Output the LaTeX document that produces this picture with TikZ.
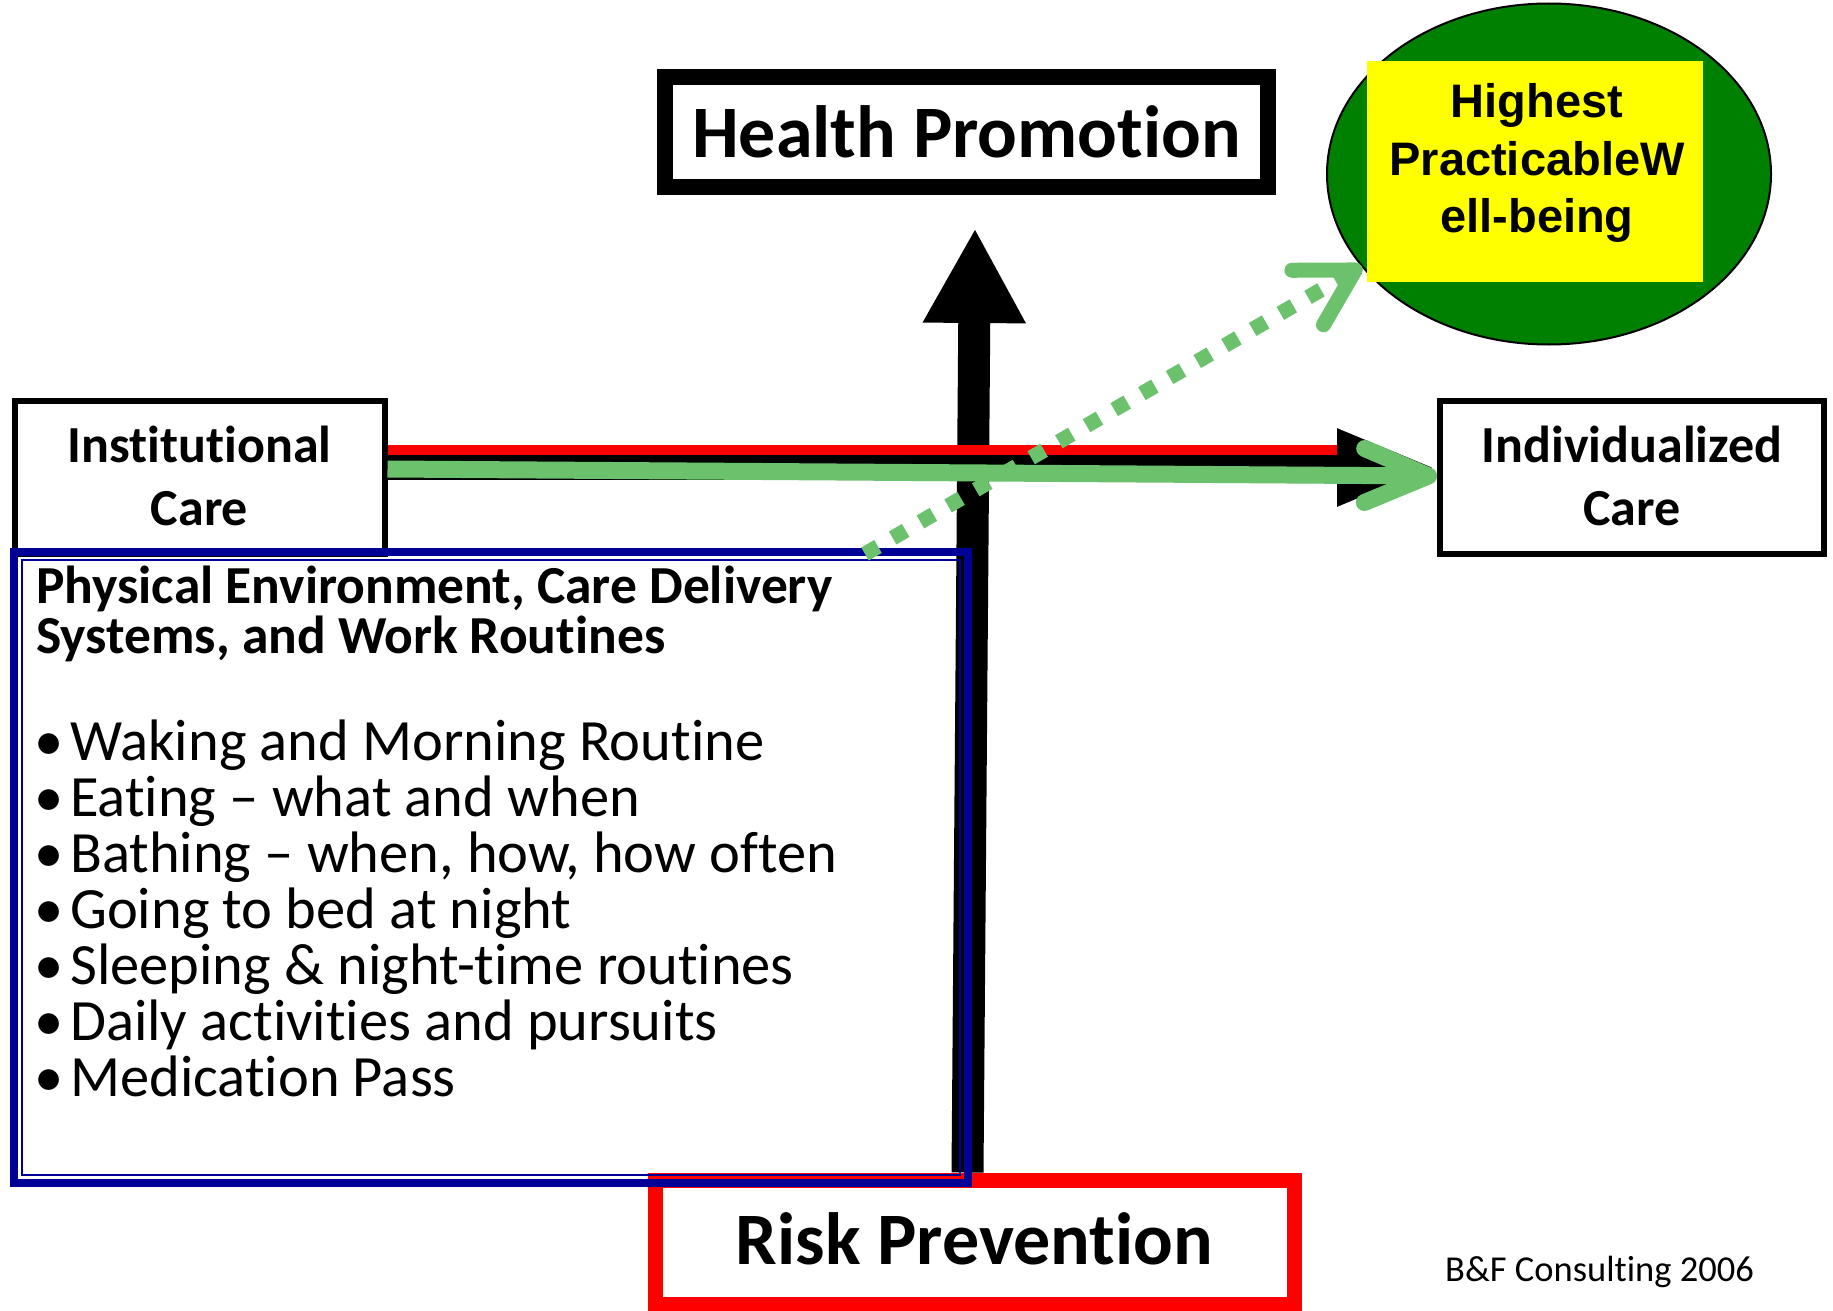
\documentclass[tikz,border=0pt]{standalone}
\usepackage{fontspec}
\setmainfont{Carlito}[RawFeature=-liga,RawFeature=-clig,RawFeature=-calt,RawFeature=-ccmp,RawFeature=-rlig,RawFeature=-dlig]
\newfontfamily\arialfont{Liberation Sans}
\usetikzlibrary{arrows.meta,shapes.geometric}
\definecolor{riskred}{RGB}{255,0,0}
\definecolor{boxnavy}{RGB}{0,0,150}
\definecolor{pathgreen}{RGB}{108,194,108}
\definecolor{goalgreen}{RGB}{0,128,0}
\definecolor{goalyellow}{RGB}{255,255,0}

\begin{document}
\begin{tikzpicture}[x=1pt,y=-1pt,
    caremode/.style={draw, line width=6pt, fill=white, inner sep=0pt,
      minimum width=370pt, minimum height=153pt, align=center,
      font=\fontsize{52}{63}\selectfont\bfseries},
    axisbox/.style={draw, line width=16pt, fill=white, inner sep=0pt,
      minimum width=603pt, minimum height=110pt,
      font=\fontsize{74}{88}\selectfont\bfseries},
    headline/.style={anchor=base west, inner sep=0pt,
      font=\fontsize{53.5}{53.5}\selectfont\bfseries},
    bullet/.style={anchor=base west, inner sep=0pt,
      font=\fontsize{58.5}{58.5}\selectfont},
    bigarrow/.style={line width=32pt, -{Triangle[length=95pt,width=96pt]}}
  ]
  \useasboundingbox[fill=white] (0,0) rectangle (1833,1311);

  % goal in the corner
  \node[ellipse, draw, line width=2pt, fill=goalgreen,
    minimum width=444pt, minimum height=341pt] (goalring) at (1549,174) {};
  \node[fill=goalyellow, minimum width=336pt, minimum height=221pt] (goal) at (1535,171.5) {};
  \node[align=center, inner sep=0pt, font=\arialfont\bfseries\fontsize{47}{57.5}\selectfont]
    (goaltext) at (1537,163) {Highest\\PracticableW\\ell-being};

  % the two axes
  \node[axisbox] (health) at (966.5,132) {Health Promotion};
  \node[axisbox, draw=riskred, line width=15pt, minimum width=639pt, minimum height=124pt]
    (risk) at (974.5,1242) {\raisebox{6pt}{Risk Prevention}};
  \draw[bigarrow] ([xshift=-7pt]risk.north) -- ([xshift=8.5pt,yshift=-33pt]health.south);

  \node[caremode] (inst) at (199.5,477.5) {\raisebox{3pt}{Institutional}\\\raisebox{3pt}{Care}};
  \node[caremode, minimum width=384pt] (indiv) at (1632,477.5)
    {\raisebox{3pt}{Individualized}\\\raisebox{3pt}{Care}};

  \draw[line width=25pt, -{Triangle[length=100pt,width=70pt]}]
    ([yshift=10pt]inst.east) -- ([yshift=10pt]indiv.west);
  \draw[riskred, line width=10pt, shorten >=100pt]
    ([yshift=27.5pt]inst.east) -- ([yshift=27.5pt]indiv.west);
  \draw[pathgreen, line width=17pt, -{Straight Barb[length=64pt,width=54pt,round]}]
    ([yshift=8.5pt]inst.east) -- ([yshift=1.5pt]indiv.west);

  % routines box
  \node[draw=boxnavy, line width=8pt, minimum width=954pt, minimum height=631pt]
    (routines) at (491,867.5) {};
  \draw[boxnavy, line width=2pt] ([xshift=12pt,yshift=-12pt]routines.north west)
    rectangle ([xshift=-12pt,yshift=12pt]routines.south east);
  \node[headline] (head1) at (36,603) {Physical Environment, Care Delivery};
  \node[headline] (head2) at (36,653) {Systems, and Work Routines};
  \foreach \txt [count=\i] in {Waking and Morning Routine, Eating – what and when,
      {Bathing – when, how, how often}, Going to bed at night,
      Sleeping \& night-time routines, Daily activities and pursuits, Medication Pass}
    \node[bullet] (item\i) at (34,{760+56*(\i-1)}) {\makebox[36pt][l]{•}\txt};

  \draw[pathgreen, line width=15pt, dash pattern=on 15pt off 17pt,
    -{Straight Barb[length=55pt,width=63pt,round]}]
    ([xshift=-107pt,yshift=-6pt]routines.north east) -- ([xshift=-5pt,yshift=16pt]goal.south west);

  \node[anchor=base west, inner sep=0pt, font=\fontsize{36.5}{36.5}\selectfont]
    (credit) at (1445,1281) {B\&F Consulting 2006};
\end{tikzpicture}
\end{document}
